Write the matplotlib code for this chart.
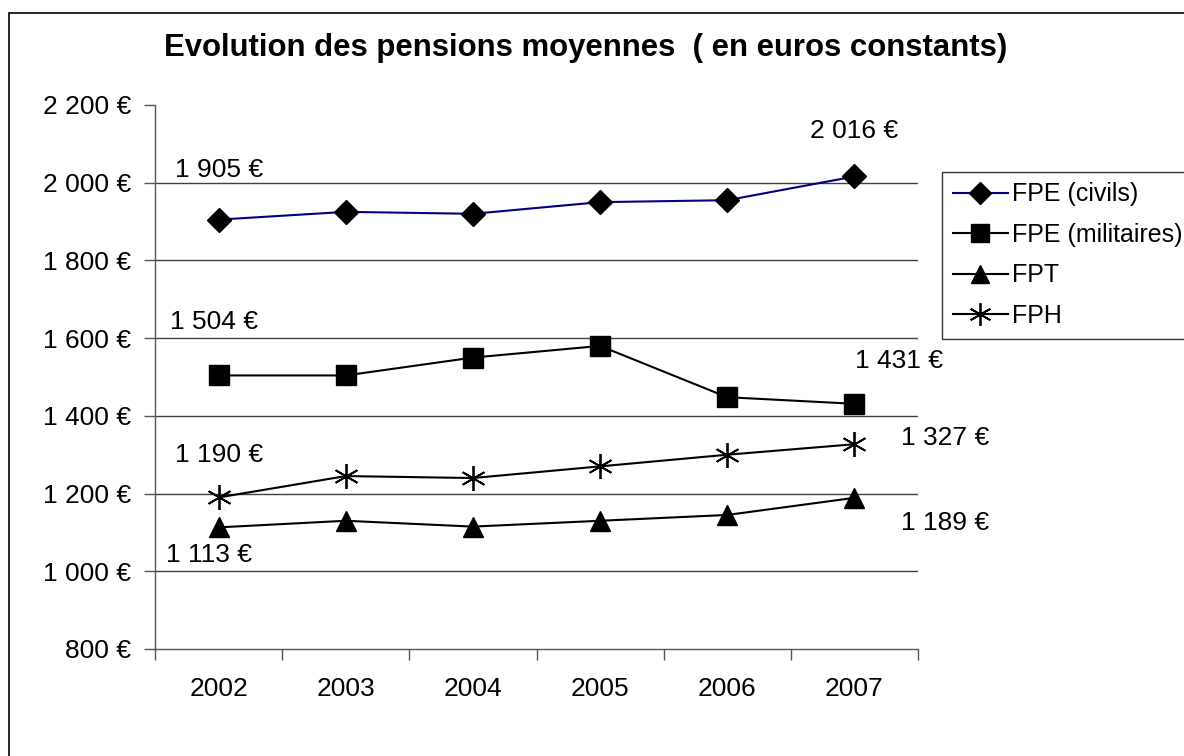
import matplotlib
matplotlib.use("Agg")
import matplotlib.pyplot as plt
from matplotlib.patches import Rectangle
from matplotlib.ticker import FixedLocator, FuncFormatter

plt.rcParams['font.family'] = ['Liberation Sans', 'DejaVu Sans']

years = ["2002", "2003", "2004", "2005", "2006", "2007"]
fpe_civils = [1905, 1925, 1920, 1950, 1955, 2016]
fpe_militaires = [1504, 1504, 1550, 1580, 1448, 1431]
fpt = [1113, 1130, 1115, 1130, 1145, 1189]
fph = [1190, 1245, 1240, 1270, 1300, 1327]
series_names = ["FPE (civils)", "FPE (militaires)", "FPT", "FPH"]
y_ticks = [800, 1000, 1200, 1400, 1600, 1800, 2000, 2200]
title = "Evolution des pensions moyennes  ( en euros constants)"

def fmt_eur(v, pos=None):
    s = f"{int(round(v)):,}".replace(",", " ")
    return f"{s} €"

FS = 19
W, H = 1184, 756
fig = plt.figure(figsize=(W / 100, H / 100), dpi=100)
fig.patch.set_facecolor("white")

# outer border
fig.add_artist(Rectangle((9 / W, 0 - 0.01), 1.2, 1 - 13 / H + 0.01,
                         transform=fig.transFigure, fill=False,
                         edgecolor="black", linewidth=1.2))

ax = fig.add_axes([155 / W, 1 - 649 / H, (918 - 155) / W, (649 - 105) / H])
x = list(range(len(years)))

l1, = ax.plot(x, fpe_civils, color="#000080", lw=1.5, marker="D", ms=12,
              mfc="black", mec="black", label=series_names[0])
l2, = ax.plot(x, fpe_militaires, color="black", lw=1.5, marker="s", ms=14,
              mfc="black", mec="black", label=series_names[1])
l3, = ax.plot(x, fpt, color="black", lw=1.5, marker="^", ms=15,
              mfc="black", mec="black", label=series_names[2])
l4, = ax.plot(x, fph, color="black", lw=1.5, marker=(6, 2, 0), ms=18,
              mew=1.3, mfc="black", mec="black", label=series_names[3])

ax.set_xlim(-0.5, len(years) - 0.5)
ax.set_ylim(800, 2200)
ax.yaxis.set_major_locator(FixedLocator(y_ticks))
ax.yaxis.set_major_formatter(FuncFormatter(fmt_eur))
ax.set_xticks(x)
ax.set_xticklabels(years)
ax.xaxis.set_minor_locator(FixedLocator([i - 0.5 for i in range(len(years) + 1)]))
ax.tick_params(axis="x", which="major", length=0, pad=20, labelsize=FS)
ax.tick_params(axis="x", which="minor", length=8, width=1, color="#555555", direction="out")
ax.tick_params(axis="y", length=8, width=1, color="#555555", pad=9, labelsize=FS)

for v in y_ticks[1:-1]:
    ax.axhline(v, color="#404040", lw=1.0, zorder=0)

for side in ["top", "right"]:
    ax.spines[side].set_visible(False)
for side in ["left", "bottom"]:
    ax.spines[side].set_color("#555555")
    ax.spines[side].set_linewidth(1.0)

# value labels
ann = [
    (0, fpe_civils[0], 0, 50),
    (5, fpe_civils[5], 0, 45),
    (0, fpe_militaires[0], -5, 53),
    (5, fpe_militaires[5], 45, 43),
    (0, fph[0], 0, 42),
    (5, fph[5], 91, 6),
    (0, fpt[0], -10, -28),
    (5, fpt[5], 91, -25),
]
for xi, yv, dx, dy in ann:
    ax.annotate(fmt_eur(yv), (xi, yv), xytext=(dx, dy), textcoords="offset pixels",
                ha="center", va="center", fontsize=FS, annotation_clip=False)

fig.text(586 / W, 1 - 48 / H, title, ha="center", va="center",
         fontsize=22.4, fontweight="bold")

leg = fig.legend(handles=[l1, l2, l3, l4], loc="upper left",
                 bbox_to_anchor=(942 / W, 1 - 172 / H), fontsize=18,
                 frameon=True, fancybox=False, borderpad=0.42, labelspacing=0.66,
                 handlelength=2.2, handletextpad=0.2, borderaxespad=0)
leg.get_frame().set_edgecolor("black")
leg.get_frame().set_linewidth(1.0)
for h in leg.legend_handles:
    h.set_markersize(h.get_markersize() * 0.9)

fig.savefig("out.png", dpi=100)
